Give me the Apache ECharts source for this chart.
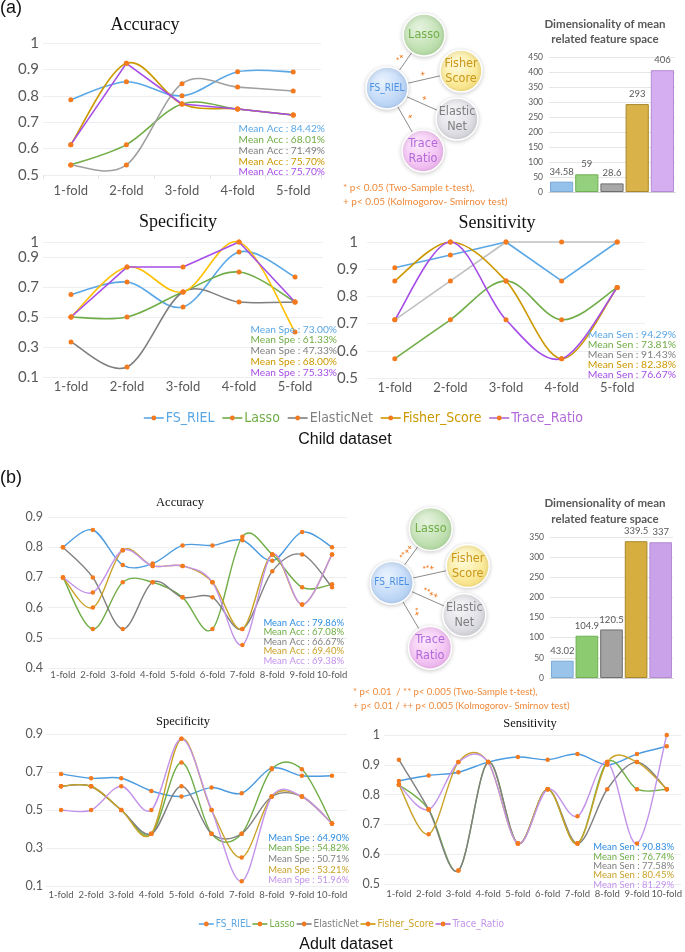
<!DOCTYPE html>
<html><head><meta charset="utf-8">
<script src="https://cdn.jsdelivr.net/npm/echarts@6/dist/echarts.min.js"></script>
<style>html,body{margin:0;padding:0;background:#fff}#c{width:685px;height:952px}</style>
</head><body><div id="c"></div>
<script>
// ---------------- DATA ----------------
const methods = ['FS_RIEL', 'Lasso', 'ElasticNet', 'Fisher_Score', 'Trace_Ratio'];
const folds5 = ['1-fold', '2-fold', '3-fold', '4-fold', '5-fold'];
const folds10 = ['1-fold', '2-fold', '3-fold', '4-fold', '5-fold', '6-fold', '7-fold', '8-fold', '9-fold', '10-fold'];

// Child dataset (rows follow `methods`)
const childAcc = [
  [0.785, 0.853, 0.800, 0.891, 0.890],
  [0.538, 0.615, 0.769, 0.750, 0.727],
  [0.538, 0.538, 0.846, 0.833, 0.818],
  [0.615, 0.923, 0.769, 0.750, 0.727],
  [0.615, 0.923, 0.769, 0.750, 0.727]
];
const childSpe = [
  [0.650, 0.733, 0.567, 0.933, 0.767],
  [0.500, 0.500, 0.667, 0.800, 0.600],
  [0.333, 0.167, 0.667, 0.600, 0.600],
  [0.500, 0.833, 0.667, 1.000, 0.400],
  [0.500, 0.833, 0.833, 1.000, 0.600]
];
const childSen = [
  [0.905, 0.952, 1.000, 0.857, 1.000],
  [0.571, 0.714, 0.857, 0.714, 0.833],
  [0.714, 0.857, 1.000, 1.000, 1.000],
  [0.857, 1.000, 0.857, 0.571, 0.833],
  [0.714, 1.000, 0.714, 0.571, 0.833]
];
const childMeanAcc = [84.42, 68.01, 71.49, 75.70, 75.70];
const childMeanSpe = [73.00, 61.33, 47.33, 68.00, 75.33];
const childMeanSen = [94.29, 73.81, 91.43, 82.38, 76.67];
const childDim = [34.58, 59, 28.6, 293, 406];

// Adult dataset
const adultAcc = [
  [0.800, 0.857, 0.741, 0.746, 0.806, 0.806, 0.823, 0.755, 0.850, 0.800],
  [0.700, 0.529, 0.684, 0.684, 0.634, 0.529, 0.835, 0.776, 0.667, 0.677],
  [0.800, 0.700, 0.529, 0.684, 0.634, 0.634, 0.529, 0.720, 0.776, 0.667],
  [0.700, 0.600, 0.790, 0.738, 0.738, 0.684, 0.529, 0.776, 0.610, 0.776],
  [0.700, 0.650, 0.790, 0.738, 0.738, 0.684, 0.476, 0.776, 0.610, 0.776]
];
const adultSpe = [
  [0.690, 0.667, 0.667, 0.600, 0.571, 0.618, 0.588, 0.720, 0.680, 0.680],
  [0.625, 0.625, 0.500, 0.375, 0.750, 0.375, 0.375, 0.714, 0.714, 0.429],
  [0.625, 0.625, 0.500, 0.375, 0.625, 0.375, 0.375, 0.571, 0.571, 0.429],
  [0.625, 0.625, 0.500, 0.375, 0.875, 0.500, 0.250, 0.571, 0.571, 0.429],
  [0.500, 0.500, 0.625, 0.500, 0.875, 0.500, 0.125, 0.571, 0.571, 0.429]
];
const adultSen = [
  [0.846, 0.864, 0.875, 0.909, 0.926, 0.917, 0.936, 0.900, 0.936, 0.962],
  [0.833, 0.750, 0.545, 0.909, 0.636, 0.818, 0.636, 0.909, 0.818, 0.818],
  [0.917, 0.750, 0.545, 0.909, 0.636, 0.818, 0.636, 0.818, 0.909, 0.818],
  [0.833, 0.667, 0.909, 0.909, 0.636, 0.818, 0.636, 0.909, 0.909, 0.818],
  [0.833, 0.750, 0.909, 0.909, 0.636, 0.818, 0.727, 0.909, 0.636, 1.000]
];
const adultMeanAcc = [79.86, 67.08, 66.67, 69.40, 69.38];
const adultMeanSpe = [64.90, 54.82, 50.71, 53.21, 51.96];
const adultMeanSen = [90.83, 76.74, 77.58, 80.45, 81.29];
const adultDim = [43.02, 104.9, 120.5, 339.5, 337];

const netNodes = ['FS_RIEL', 'Lasso', 'Fisher\nScore', 'Elastic\nNet', 'Trace\nRatio'];
const childSig = ['*+', '+', '+', '+'];
const adultSig = ['**++', '**+', '**++', '*+'];
const childNote = ['* p< 0.05 (Two-Sample t-test),', '+ p< 0.05 (Kolmogorov- Smirnov test)'];
const adultNote = ['* p< 0.01  / ** p< 0.005 (Two-Sample t-test),', '+ p< 0.01 / ++ p< 0.005 (Kolmogorov- Smirnov test)'];

// ---------------- STYLE ----------------
const SANS = 'Lato, "Noto Sans", sans-serif';
const SERIF = '"Liberation Serif", "DejaVu Serif", serif';
const COND = '"Liberation Sans Narrow", "DejaVu Sans Condensed", "Roboto", sans-serif';
const ORANGE = '#f47a1f';
const colA = ['#5aa7e6', '#70ad47', '#a0a0a0', '#cc9900', '#a64de8'];
const colA2 = ['#5aa7e6', '#70ad47', '#7f7f7f', '#ffc000', '#a64de8'];
const colA3 = ['#5aa7e6', '#70ad47', '#c0c0c0', '#cc9900', '#a64de8'];
const colB = ['#4a9be0', '#70ad47', '#7f7f7f', '#c9a227', '#c393ea'];
const meanColA = ['#5aa7e6', '#70ad47', '#808080', '#cc9900', '#a64de8'];
const meanColB = ['#2f8de0', '#70ad47', '#808080', '#c9a227', '#c393ea'];
const barColA = ['#94c1ea', '#94d07d', '#a8a8a8', '#d9b24a', '#d4aef0'];
const barColB = ['#9ac4ea', '#8dcb70', '#a3a3a3', '#d6ad3f', '#caa2ea'];
const barBorder = ['#7aa9d6', '#6fb055', '#6e6e6e', '#a9862a', '#b48ad6'];

const grids = [], xAxes = [], yAxes = [], series = [], graphic = [];

// Excel-like smoothed line (Catmull-Rom bezier through the data points, placed by the axes)
function curveSeries(gi, row, color, lw, tension, name) {
  return {
    type: 'custom', name: name + ' curve', xAxisIndex: gi, yAxisIndex: gi, coordinateSystem: 'cartesian2d',
    data: row.map((v, k) => [k, v]), encode: {x: 0, y: 1}, silent: true, animation: false, z: 2, clip: false,
    renderItem: function (params, api) {
      const i = params.dataIndexInside, n = params.dataInsideLength;
      if (i >= n - 1) return {type: 'group', children: []};
      const P = k => { k = Math.max(0, Math.min(n - 1, k)); return api.coord([api.value(0, k), api.value(1, k)]); };
      const p0 = P(i - 1), p1 = P(i), p2 = P(i + 1), p3 = P(i + 2), t = tension;
      return {type: 'bezierCurve', shape: {x1: p1[0], y1: p1[1], x2: p2[0], y2: p2[1],
        cpx1: p1[0] + (p2[0] - p0[0]) * t, cpy1: p1[1] + (p2[1] - p0[1]) * t,
        cpx2: p2[0] - (p3[0] - p1[0]) * t, cpy2: p2[1] - (p3[1] - p1[1]) * t},
        style: {stroke: color, lineWidth: lw, fill: 'none'}};
    }
  };
}

function lineChart(cfg) {
  const gi = grids.length;
  grids.push(Object.assign({containLabel: false}, cfg.grid));
  xAxes.push({
    type: 'category', gridIndex: gi, data: cfg.cats, boundaryGap: true,
    axisLine: {show: false},
    axisTick: {show: cfg.ticks || false, length: 4, lineStyle: {color: '#e2e4e8'}},
    axisLabel: {color: '#595959', fontFamily: SANS, fontSize: cfg.xFont, margin: cfg.xMargin, interval: 0},
    splitLine: {show: false}
  });
  yAxes.push({
    type: 'value', gridIndex: gi, min: cfg.y[0], max: cfg.y[1], interval: cfg.y[2],
    axisLine: {show: false}, axisTick: {show: false},
    axisLabel: {color: '#595959', fontFamily: SANS, fontSize: cfg.yFont, margin: cfg.yMargin, showMaxLabel: true, showMinLabel: true},
    splitLine: {lineStyle: {color: '#eceef2', width: 1}}
  });
  cfg.data.forEach((row, i) => {
    series.push(curveSeries(gi, row, cfg.colors[i], cfg.lw || 1.6, cfg.smooth[i] ? 1 / 6 : 0, methods[i]));
  });
  cfg.data.forEach((row, i) => {
    series.push({
      type: 'line', name: methods[i], xAxisIndex: gi, yAxisIndex: gi,
      data: row, symbol: 'circle', symbolSize: cfg.sym || 5, showSymbol: true,
      lineStyle: {color: cfg.colors[i], width: 0, opacity: 0},
      itemStyle: {color: ORANGE},
      emphasis: {disabled: true}, animation: false, z: 5
    });
  });
  graphic.push({type: 'text', x: cfg.title[1], y: cfg.title[2], z: 10,
    style: {text: cfg.title[0], fill: '#111', fontFamily: SERIF, fontSize: cfg.title[3], align: 'center', verticalAlign: 'middle'}});
  cfg.means.forEach((m, i) => {
    graphic.push({type: 'text', x: cfg.meanPos[0], y: cfg.meanPos[1] + i * cfg.meanPos[2], z: 10,
      style: {text: cfg.meanLabel + ' : ' + m.toFixed(2) + '%', fill: cfg.meanCol[i], fontFamily: SANS,
        fontSize: cfg.meanPos[3], align: 'right', verticalAlign: 'middle'}});
  });
}

function barChart(cfg) {
  const gi = grids.length;
  grids.push(cfg.grid);
  xAxes.push({type: 'category', gridIndex: gi, data: methods, axisLabel: {show: false}, axisTick: {show: false},
    axisLine: {lineStyle: {color: '#d0d0d0'}}});
  yAxes.push({type: 'value', gridIndex: gi, min: 0, max: cfg.max, interval: 50,
    axisLine: {show: false}, axisTick: {show: false},
    axisLabel: {color: '#595959', fontFamily: SANS, fontSize: 8.5, margin: 6},
    splitLine: {lineStyle: {color: '#e6e6e6'}}});
  series.push({type: 'bar', name: cfg.name, xAxisIndex: gi, yAxisIndex: gi, barCategoryGap: '8%',
    data: cfg.data.map((v, i) => ({value: v, itemStyle: {color: cfg.colors[i], borderColor: barBorder[i], borderWidth: 1}})),
    label: {show: true, position: 'top', color: '#595959', fontFamily: SANS, fontSize: 9.5, distance: 5},
    animation: false, emphasis: {disabled: true}});
  cfg.title.forEach((t, i) => graphic.push({type: 'text', x: cfg.titlePos[0], y: cfg.titlePos[1] + i * cfg.titlePos[2], z: 10,
    style: {text: t, fill: '#595959', fontFamily: SANS, fontWeight: 'bold', fontSize: 11.5, align: 'center', verticalAlign: 'middle'}}));
}

function network(cfg) {
  const fills = [['#eaf3fe', '#c6dcf8', '#a9c8ef'], ['#e6f3e0', '#c6e3b8', '#a7d295'], ['#fffbe0', '#fbeca0', '#f2d870'],
                 ['#f6f6f8', '#e2e2e8', '#c8c8d0'], ['#fde9fd', '#f4c8f4', '#e6a8e8']];
  const txt = ['#4a90e2', '#70ad47', '#c9961a', '#7f7f7f', '#b26ad9'];
  const p = cfg.pos, r = cfg.r;
  for (let k = 1; k < 5; k++) {
    graphic.push({type: 'line', z: 5, shape: {x1: p[0][0], y1: p[0][1], x2: p[k][0], y2: p[k][1]},
      style: {stroke: '#8c8c8c', lineWidth: 1}});
    const mx = p[0][0] + (p[k][0] - p[0][0]) * 0.5, my = p[0][1] + (p[k][1] - p[0][1]) * 0.5;
    const ang = Math.atan2(p[k][1] - p[0][1], p[k][0] - p[0][0]);
    graphic.push({type: 'text', z: 6, x: mx + Math.sin(ang) * 2, y: my - Math.cos(ang) * 2, rotation: -ang,
      style: {text: cfg.sig[k - 1], fill: ORANGE, fontFamily: SANS, fontWeight: 'bold', fontSize: 8, align: 'center', verticalAlign: 'bottom'}});
  }
  for (let k = 0; k < 5; k++) {
    graphic.push({type: 'circle', z: 7, shape: {cx: p[k][0], cy: p[k][1], r: r},
      style: {fill: new echarts.graphic.RadialGradient(0.4, 0.35, 0.75, [
        {offset: 0, color: fills[k][0]}, {offset: 0.55, color: fills[k][1]}, {offset: 1, color: fills[k][2]}]),
        stroke: '#ffffff', lineWidth: 1.5, shadowBlur: 4, shadowColor: 'rgba(0,0,0,0.18)', shadowOffsetY: 1}});
    graphic.push({type: 'text', z: 8, x: p[k][0], y: p[k][1],
      style: {text: netNodes[k], fill: txt[k], fontFamily: COND, fontSize: k === 0 ? cfg.fs0 : cfg.fs, lineHeight: cfg.fs + 3,
        align: 'center', verticalAlign: 'middle'}});
  }
  cfg.note.forEach((t, i) => graphic.push({type: 'text', z: 8, x: cfg.notePos[0], y: cfg.notePos[1] + i * cfg.notePos[2],
    style: {text: t, fill: '#f08a3c', fontFamily: SANS, fontSize: cfg.noteFont, align: 'left', verticalAlign: 'middle'}}));
}

// ---------------- PANEL (a) ----------------
lineChart({grid: {left: 43, top: 43, width: 278, height: 132}, cats: folds5, data: childAcc, y: [0.5, 1, 0.1],
  smooth: [1, 1, 1, 1, 0], colors: colA, xFont: 13, yFont: 15, xMargin: 9, yMargin: 4, ticks: true,
  title: ['Accuracy', 145, 25, 18], means: childMeanAcc, meanLabel: 'Mean Acc', meanCol: meanColA, meanPos: [325, 129, 10.75, 10.2]});
lineChart({grid: {left: 43, top: 242, width: 280, height: 135}, cats: folds5, data: childSpe, y: [0.1, 1, 0.2],
  smooth: [1, 1, 1, 1, 0], colors: colA2, xFont: 13, yFont: 15, xMargin: 3, yMargin: 4,
  title: ['Specificity', 178, 222, 18], means: childMeanSpe, meanLabel: 'Mean Spe', meanCol: meanColA, meanPos: [337, 329.5, 10.7, 10.2]});
lineChart({grid: {left: 367, top: 242, width: 278, height: 136}, cats: folds5, data: childSen, y: [0.5, 1, 0.1],
  smooth: [0, 1, 0, 1, 1], colors: colA3, xFont: 13, yFont: 15, xMargin: 3, yMargin: 9,
  title: ['Sensitivity', 497, 223, 18], means: childMeanSen, meanLabel: 'Mean Sen', meanCol: meanColA, meanPos: [676, 335, 9.9, 10.4]});
barChart({grid: {left: 549, top: 57, width: 126, height: 135}, max: 450, data: childDim, colors: barColA, name: 'dimChild',
  title: ['Dimensionality of mean', 'related feature space'], titlePos: [605, 24, 15.5]});
network({pos: [[387, 88], [424, 35], [461, 71], [457, 119], [423, 151]], r: 21, sig: childSig, fs: 12.5, fs0: 10,
  note: childNote, notePos: [343, 188, 13.5], noteFont: 10});

// ---------------- PANEL (b) ----------------
lineChart({grid: {left: 48, top: 517, width: 299, height: 151}, cats: folds10, data: adultAcc, y: [0.4, 0.9, 0.1],
  smooth: [1, 1, 1, 1, 1], colors: colB, xFont: 9.5, yFont: 12.5, xMargin: 2, yMargin: 5, sym: 4.5, lw: 1.4,
  title: ['Accuracy', 180, 503, 12.5], means: adultMeanAcc, meanLabel: 'Mean Acc', meanCol: meanColB, meanPos: [344, 622.7, 9.5, 9.5]});
lineChart({grid: {left: 46, top: 734, width: 301, height: 152}, cats: folds10, data: adultSpe, y: [0.1, 0.9, 0.2],
  smooth: [1, 1, 1, 1, 1], colors: colB, xFont: 9.5, yFont: 12.5, xMargin: 4, yMargin: 3, sym: 4.5, lw: 1.4,
  title: ['Specificity', 183, 722, 12.5], means: adultMeanSpe, meanLabel: 'Mean Spe', meanCol: meanColB, meanPos: [349, 837.7, 10.6, 9.5]});
lineChart({grid: {left: 384, top: 735, width: 299, height: 149}, cats: folds10, data: adultSen, y: [0.5, 1, 0.1],
  smooth: [1, 1, 1, 1, 1], colors: colB, xFont: 9.5, yFont: 12.5, xMargin: 5, yMargin: 4, sym: 4.5, lw: 1.4,
  title: ['Sensitivity', 530, 724, 12.5], means: adultMeanSen, meanLabel: 'Mean Sen', meanCol: meanColB, meanPos: [674, 847.3, 9.3, 9.5]});
barChart({grid: {left: 550, top: 537, width: 123, height: 141}, max: 350, data: adultDim, colors: barColB, name: 'dimAdult',
  title: ['Dimensionality of mean', 'related feature space'], titlePos: [605, 503, 16]});
network({pos: [[391.7, 582.7], [430.7, 529], [467.7, 566], [464.3, 615], [430, 647.7]], r: 21.5, sig: adultSig, fs: 12.5, fs0: 10,
  note: adultNote, notePos: [353, 692, 14], noteFont: 9.5});

// ---------------- captions ----------------
[['(a)', 0, 8], ['(b)', 0, 478]].forEach(t => graphic.push({type: 'text', x: t[1], y: t[2],
  style: {text: t[0], fill: '#111', fontFamily: '"Liberation Sans", Arial, sans-serif', fontSize: 18, align: 'left', verticalAlign: 'middle'}}));
[['Child dataset', 345, 440], ['Adult dataset', 346, 945]].forEach(t => graphic.push({type: 'text', x: t[1], y: t[2],
  style: {text: t[0], fill: '#111', fontFamily: '"Liberation Sans", Arial, sans-serif', fontSize: 16, align: 'center', verticalAlign: 'middle'}}));

const legendLine = ['#5aa7e6', '#70ad47', '#7f7f7f', '#cc9900', '#b26ad9'];
function legend(left, top, fs, iw, gap, textCols) {
  return {left: left, top: top, itemWidth: iw, itemHeight: 6, itemGap: gap, selectedMode: false,
    data: methods.map((m, i) => ({name: m, lineStyle: {color: legendLine[i], width: 1.6, opacity: 1}, itemStyle: {color: ORANGE},
      textStyle: {color: textCols[i]}})),
    textStyle: {fontFamily: COND, fontSize: fs, padding: [0, 0, 0, -3]}};
}

const chart = echarts.init(document.getElementById('c'), null, {renderer: 'canvas'});
chart.setOption({
  backgroundColor: '#ffffff',
  animation: false,
  grid: grids, xAxis: xAxes, yAxis: yAxes, series: series, graphic: graphic,
  legend: [legend(138, 406, 14, 20, 7, ['#5aa7e6', '#70ad47', '#7f7f7f', '#cc9900', '#b26ad9']),
           legend(193, 914, 10, 15, 1, ['#5aa7e6', '#70ad47', '#7f7f7f', '#c9a227', '#c393ea'])]
});
</script></body></html>
